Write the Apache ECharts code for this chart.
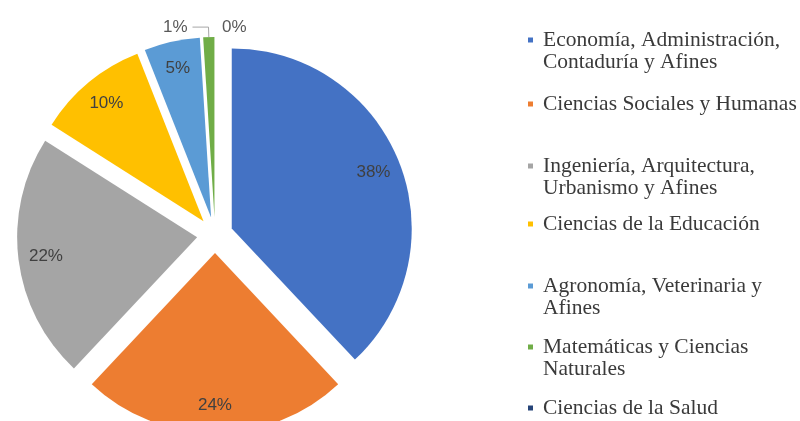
<!DOCTYPE html>
<html>
<head>
<meta charset="utf-8">
<script src="https://cdn.jsdelivr.net/npm/echarts@6/dist/echarts.min.js"></script>
<style>
  html, body { margin: 0; padding: 0; background: #ffffff; }
  #chart { width: 800px; height: 421px; }
</style>
</head>
<body>
<div id="chart"></div>
<script>
// Graduates by field of knowledge (share, %)
const categories = [
  'Economía, Administración, Contaduría y Afines',
  'Ciencias Sociales y Humanas',
  'Ingeniería, Arquitectura, Urbanismo y Afines',
  'Ciencias de la Educación',
  'Agronomía, Veterinaria y Afines',
  'Matemáticas y Ciencias Naturales',
  'Ciencias de la Salud'
];
const shares = [38, 24, 22, 10, 5, 1, 0];
const colors = ['#4472C4', '#ED7D31', '#A5A5A5', '#FFC000', '#5B9BD5', '#70AD47', '#264478'];

// legend layout: centre of each entry's first text line
const legendFirstLine = [40, 104, 166, 224, 286, 347, 408];

const PIE_CENTER = [215, 235];
const PIE_RADIUS = 180;
// just right of 12 o'clock so an empty slice's label falls on the right-hand side
const START_ANGLE = 89.99;
const EXPLODE = 18;
const SMALL_SHARE = 3;
const LEGEND_LINE = 22;
const LEGEND_FONT = 21.5;
const LEGEND_FAMILY = 'Liberation Serif';
const LEGEND_WIDTH = 262;

// word-wrap legend names to the legend column width
const measureCtx = document.createElement('canvas').getContext('2d');
measureCtx.font = LEGEND_FONT + 'px "' + LEGEND_FAMILY + '"';
function wrapWords(text, maxWidth) {
  const words = text.split(' ');
  const lines = [];
  let line = '';
  words.forEach(w => {
    const next = line ? line + ' ' + w : w;
    if (line && measureCtx.measureText(next).width > maxWidth) {
      lines.push(line);
      line = w;
    } else {
      line = next;
    }
  });
  if (line) lines.push(line);
  return lines;
}
const legendLines = categories.map(n => wrapWords(n, LEGEND_WIDTH));

const pctText = p => Math.round(p.percent) + '%';

const mainData = categories.map((name, i) => ({
  name: name,
  value: shares[i],
  selected: true,
  itemStyle: { color: colors[i] }
}));

// transparent ring carrying the value labels near the outer edge
const labelData = categories.map((name, i) => {
  const item = { name: name, value: shares[i], selected: true };
  if (shares[i] < SMALL_SHARE) {
    item.label = { position: 'outside', color: '#595959' };
    item.labelLine = shares[i] > 0
      ? { show: true, length: 10, length2: 16, lineStyle: { color: '#a6a6a6', width: 1 } }
      : { show: false, length: 10, length2: 2 };
  }
  return item;
});

const legends = categories.map((name, i) => {
  const lines = legendLines[i];
  const wrapped = lines.length > 1;
  return {
    data: [name],
    orient: 'vertical',
    left: 528,
    top: legendFirstLine[i] - (wrapped ? LEGEND_LINE * 1.5 : LEGEND_LINE / 2),
    padding: 0,
    icon: 'path://M0,0h5v5h-5z',
    symbolKeepAspect: true,
    itemWidth: 15,
    itemHeight: 5,
    itemGap: 0,
    selectedMode: false,
    // a leading blank line keeps the marker level with the first line of wrapped names
    formatter: () => (wrapped ? '\n' : '') + lines.join('\n'),
    textStyle: {
      fontFamily: LEGEND_FAMILY,
      fontSize: LEGEND_FONT,
      color: '#3a3a3a',
      lineHeight: LEGEND_LINE
    }
  };
});

const chart = echarts.init(document.getElementById('chart'), null, { renderer: 'canvas' });
chart.setOption({
  backgroundColor: '#ffffff',
  animation: false,
  legend: legends,
  series: [
    {
      type: 'pie',
      center: PIE_CENTER,
      radius: PIE_RADIUS,
      startAngle: START_ANGLE,
      clockwise: true,
      selectedMode: 'multiple',
      selectedOffset: EXPLODE,
      avoidLabelOverlap: false,
      label: { show: false },
      labelLine: { show: false },
      emphasis: { scale: false },
      data: mainData
    },
    {
      type: 'pie',
      center: PIE_CENTER,
      radius: [PIE_RADIUS * 0.66, PIE_RADIUS],
      startAngle: START_ANGLE,
      clockwise: true,
      selectedMode: 'multiple',
      selectedOffset: EXPLODE,
      silent: true,
      legendHoverLink: false,
      avoidLabelOverlap: false,
      labelLayout: { hideOverlap: false },
      itemStyle: { color: 'rgba(0,0,0,0)' },
      label: {
        show: true,
        position: 'inside',
        formatter: pctText,
        color: '#404040',
        fontFamily: 'Liberation Sans',
        fontSize: 17
      },
      labelLine: { show: false },
      data: labelData
    }
  ]
});
</script>
</body>
</html>
